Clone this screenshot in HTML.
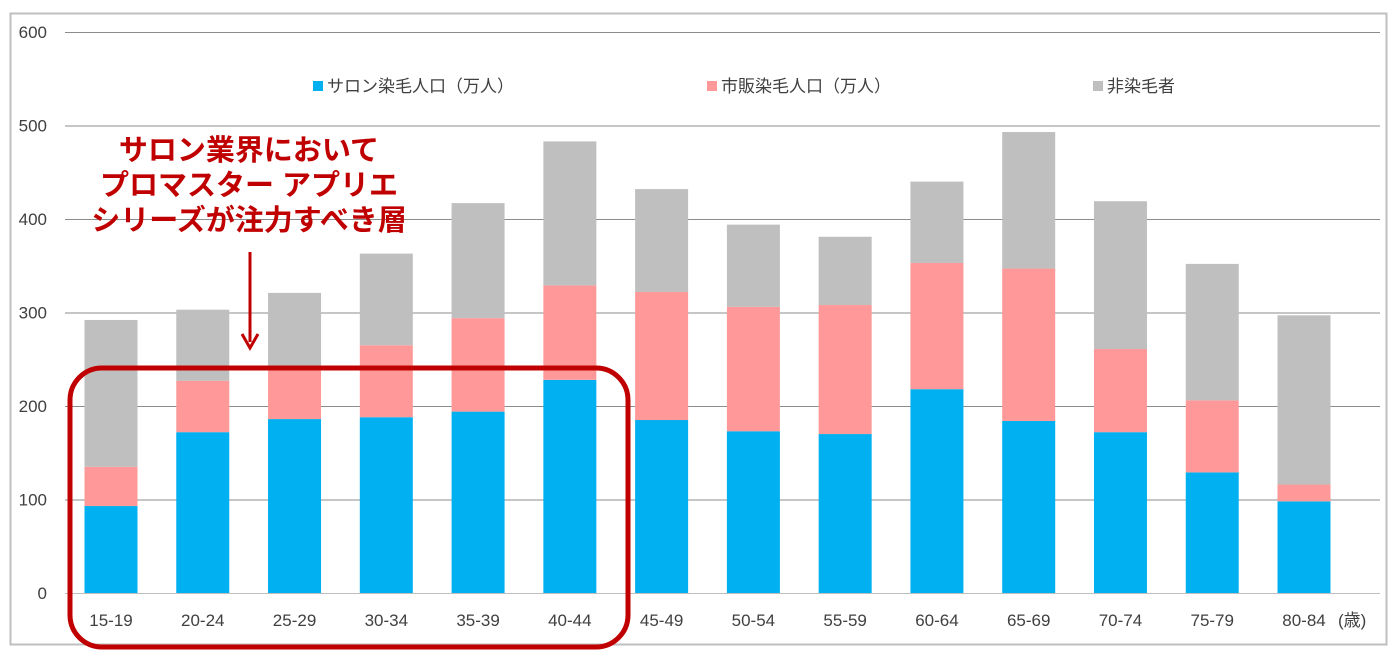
<!DOCTYPE html>
<html><head><meta charset="utf-8"><style>
body{margin:0;background:#fff;}
svg{display:block;font-family:"Liberation Sans","Noto Sans CJK JP",sans-serif;}
</style></head><body>
<svg id="chart" width="1394" height="663">
<rect x="10.5" y="13.5" width="1376" height="631" fill="#fff" stroke="#bfbfbf" stroke-width="2"/>
<g id="grid"></g>
<g id="bars"></g>
<g id="xlabels"></g>
<text x="1338" y="626" font-size="17" fill="#404040">(歳)</text>
<g>
<g><rect x="313" y="81" width="10" height="10" fill="#00b0f0"/><text x="327" y="92" font-size="17" fill="#404040">サロン染毛人口（万人）</text></g>
<g><rect x="707" y="81" width="10" height="10" fill="#ff9999"/><text x="721" y="92" font-size="17" fill="#404040">市販染毛人口（万人）</text></g>
<g><rect x="1093" y="81" width="10" height="10" fill="#bfbfbf"/><text x="1107" y="92" font-size="17" fill="#404040">非染毛者</text></g>
</g>
<g fill="#c00000" font-weight="bold" font-size="29" text-anchor="middle">
<text x="249" y="160">サロン業界において</text>
<text x="249" y="195">プロマスター アプリエ</text>
<text x="249" y="230">シリーズが注力すべき層</text>
</g>
<line x1="250" y1="252" x2="250" y2="342" stroke="#c00000" stroke-width="3"/>
<polyline points="242,334 250,348 258,334" fill="none" stroke="#c00000" stroke-width="3"/>
<rect x="70" y="368" width="558" height="279" rx="32" fill="none" stroke="#c00000" stroke-width="5"/>
</svg>
<script>
const categories=["15-19","20-24","25-29","30-34","35-39","40-44","45-49","50-54","55-59","60-64","65-69","70-74","75-79","80-84"];
const salon=[93,172,186,188,194,228,185,173,170,218,184,172,129,98];
const retail=[42,55,57,77,100,101,137,133,138,135,163,89,77,18];
const none=[157,76,78,98,123,154,110,88,73,87,146,158,146,181];
const yTicks=[0,100,200,300,400,500,600];
const NS="http://www.w3.org/2000/svg";
const x0=65,x1=1380,y0=593,y600=32;
const y=v=>y0-(v/600)*(y0-y600);
const step=91.77;
const xc=i=>111+step*i;
const bw=53;
function mk(t,a,p){const e=document.createElementNS(NS,t);for(const k in a)e.setAttribute(k,a[k]);p.appendChild(e);return e;}
const grid=document.getElementById('grid');
yTicks.forEach(v=>{
const l=mk('line',{x1:x0,x2:x1,y1:y(v)+0.5,y2:y(v)+0.5,stroke:v===0?'#bfbfbf':'#8c8c8c','stroke-width':1},grid);


const t=mk('text',{x:47,y:y(v)+6,'text-anchor':'end','font-size':17,fill:'#404040'},grid);
t.textContent=v;


});
const bars=document.getElementById('bars'),xl=document.getElementById('xlabels');
categories.forEach((c,i)=>{
const segs=[[salon[i],'#00b0f0','salon'],[retail[i],'#ff9999','retail'],[none[i],'#bfbfbf','none']];
let base=0;
segs.forEach(s=>{
const r=mk('rect',{x:xc(i)-bw/2,y:y(base+s[0]),width:bw,height:y(base)-y(base+s[0]),fill:s[1]},bars);


base+=s[0];
});
const t=mk('text',{x:xc(i),y:626,'text-anchor':'middle','font-size':17,fill:'#404040'},xl);
t.textContent=c;


});
</script>
</body></html>
